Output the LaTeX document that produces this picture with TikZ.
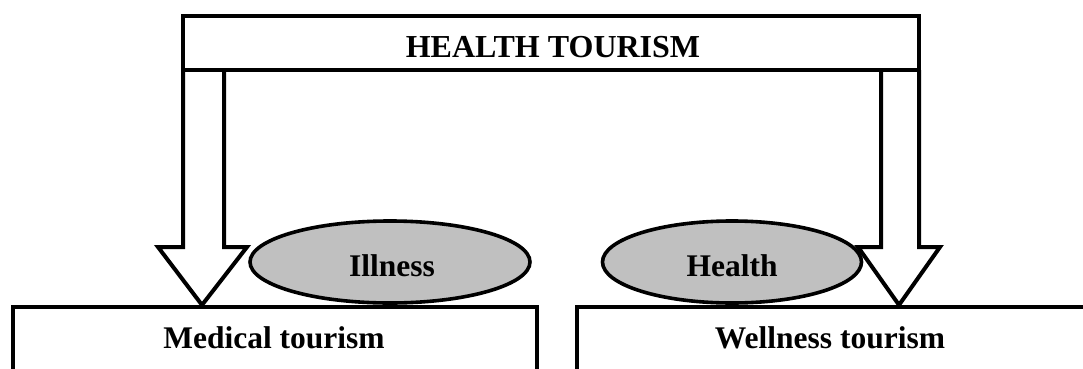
\documentclass[tikz,border=0pt]{standalone}
\usepackage{fontspec}
\setmainfont{Liberation Serif}
\usetikzlibrary{shapes.geometric}
\definecolor{ovalgray}{RGB}{192,192,192}
\tikzset{
  outline/.style={draw=black, line width=4pt, line join=miter},
  blockarrow/.style={outline, fill=white},
  oval/.style={ellipse, draw=black, line width=3.6pt, fill=ovalgray, inner sep=0pt},
  lbl/.style={anchor=base, inner sep=0pt, font=\bfseries\fontsize{31.5}{36}\selectfont},
  headlbl/.style={anchor=base, inner sep=0pt, font=\bfseries\fontsize{32}{38}\selectfont}
}
\begin{document}
\begin{tikzpicture}[x=1pt,y=-1pt]
\useasboundingbox (0,0) rectangle (1083,369);
% lower boxes (cut by the page bottom / right edge)
\draw[outline] (13,372) -- (13,307) -- (537,307) -- (537,372);
\draw[outline] (577,372) -- (577,307) -- (1086,307);
% block arrows
\draw[blockarrow] (183,70) -- (183,247) -- (158,247) -- (202,305) -- (247,247) -- (224,247) -- (224,70);
\draw[blockarrow] (881,70) -- (881,247) -- (858,247) -- (899,305) -- (940,247) -- (919,247) -- (919,70);
% top box
\node[outline, rectangle, minimum width=736pt, minimum height=54pt, inner sep=0pt] (ht) at (551,43) {};
\node[headlbl] (httext) at (553,57) {HEALTH TOURISM};
% ovals
\node[oval, minimum width=280pt, minimum height=82pt] (ill) at (390,262) {};
\node[lbl] (illtext) at (392,276) {Illness};
\node[oval, minimum width=259pt, minimum height=82pt] (hea) at (732,262) {};
\node[lbl] (heatext) at (732,276) {Health};
% box labels
\node[lbl] (med) at (274,348) {Medical tourism};
\node[lbl] (wel) at (830,348) {Wellness tourism};
\end{tikzpicture}
\end{document}
